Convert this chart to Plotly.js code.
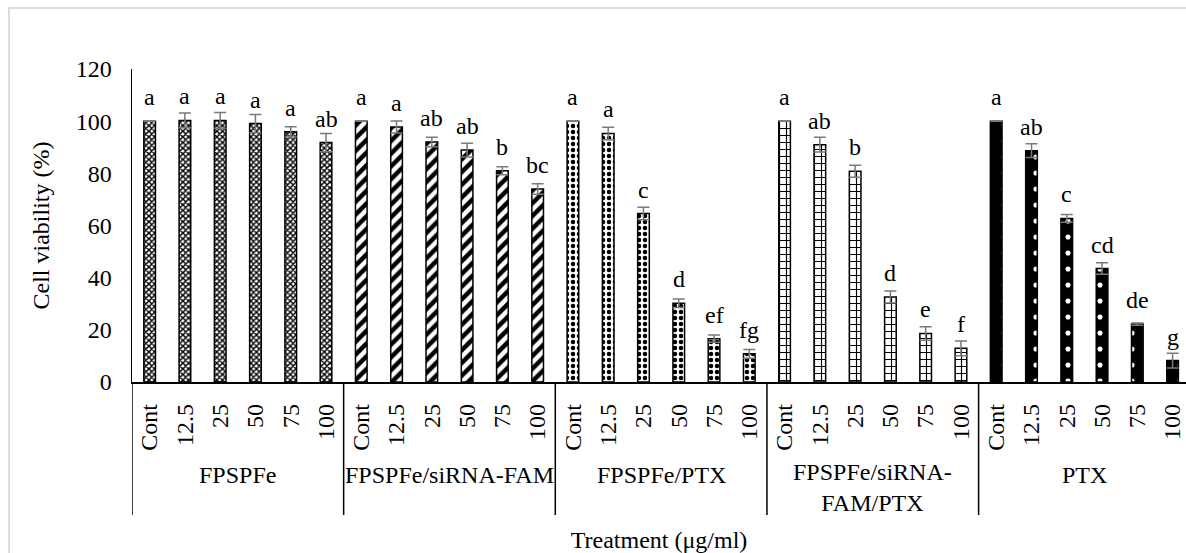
<!DOCTYPE html>
<html>
<head>
<meta charset="utf-8">
<script src="https://cdn.plot.ly/plotly-3.0.1.min.js"></script>
<style>
  html, body { margin: 0; padding: 0; background: #fff; overflow: hidden; }
  #wrap { position: relative; width: 1186px; height: 553px; }
  #chart { position: absolute; left: 0; top: 0; width: 1186px; height: 553px; }
  #frame { position: absolute; left: 8px; top: 7px; right: -4px; bottom: -4px;
           border-left: 2px solid #dcdcdc; border-top: 2px solid #dcdcdc; pointer-events: none; }
</style>
</head>
<body>
<div id="wrap">
  <div id="frame"></div>
  <div id="chart"></div>
</div>
<script>
// Treatment groups and concentrations (µg/ml)
const groups = ["FPSPFe", "FPSPFe/siRNA-FAM", "FPSPFe/PTX", "FPSPFe/siRNA-FAM/PTX", "PTX"];
const groupLabels = ["FPSPFe", "FPSPFe/siRNA-FAM", "FPSPFe/PTX", "FPSPFe/siRNA-<br>FAM/PTX", "PTX"];
const doses = ["Cont", "12.5", "25", "50", "75", "100"];

// Cell viability (%) per group, one value per dose
const viabFPSPFe       = [100, 100.3, 100.3, 99.1, 95.9, 91.8];
const viabSiRNA        = [100, 97.8, 92.0, 88.9, 81.0, 74.0];
const viabPTXNano      = [100, 95.3, 64.6, 30.2, 16.6, 10.8];
const viabSiRNAPTX     = [100, 91.0, 80.8, 32.6, 18.6, 12.9];
const viabPTX          = [100, 88.7, 62.7, 43.5, 22.2, 8.2];

// Standard deviations
const sdFPSPFe   = [0, 2.8, 3.0, 3.5, 2.0, 3.5];
const sdSiRNA    = [0, 2.3, 1.8, 2.6, 1.5, 2.0];
const sdPTXNano  = [0, 2.4, 2.4, 1.6, 1.4, 1.7];
const sdSiRNAPTX = [0, 2.8, 2.3, 2.3, 2.6, 2.8];
const sdPTX      = [0, 2.6, 1.5, 2.2, 0.4, 2.8];

// Significance letters
const sigFPSPFe   = ["a", "a", "a", "a", "a", "ab"];
const sigSiRNA    = ["a", "a", "ab", "ab", "b", "bc"];
const sigPTXNano  = ["a", "a", "c", "d", "ef", "fg"];
const sigSiRNAPTX = ["a", "ab", "b", "d", "e", "f"];
const sigPTX      = ["a", "ab", "c", "cd", "de", "g"];

const values = [viabFPSPFe, viabSiRNA, viabPTXNano, viabSiRNAPTX, viabPTX];
const sds = [sdFPSPFe, sdSiRNA, sdPTXNano, sdSiRNAPTX, sdPTX];
const sigs = [sigFPSPFe, sigSiRNA, sigPTXNano, sigSiRNAPTX, sigPTX];

// Fill patterns, one per group
const patterns = [
  {shape: "x", size: 4, solidity: 0.6, fgcolor: "#000", bgcolor: "#fff"},
  {shape: "/", size: 9, solidity: 0.5, fgcolor: "#000", bgcolor: "#fff"},
  {shape: ".", size: 6, solidity: 0.45, fgcolor: "#000", bgcolor: "#fff"},
  {shape: "+", size: 7, solidity: 0.3, fgcolor: "#000", bgcolor: "#fff"},
  {shape: ".", size: 16, solidity: 0.08, fgcolor: "#fff", bgcolor: "#000"}
];

const FONT = '"Liberation Serif", "Times New Roman", serif';
const FS = 24;
const catKey = (g, d) => g + " | " + d;
const allCats = groups.flatMap(g => doses.map(d => catKey(g, d)));
const tickText = groups.flatMap(() => doses);

const traces = groups.map((g, gi) => ({
  type: "bar",
  x: doses.map(d => catKey(g, d)),
  y: values[gi],
  width: 0.33,
  marker: {
    color: patterns[gi].bgcolor,
    line: {color: "#000", width: 1.5},
    pattern: patterns[gi]
  },
  error_y: {type: "data", array: sds[gi], visible: true, color: "#7a7a7a", thickness: 1.5, width: 6},
  showlegend: false,
  hoverinfo: "x+y"
}));

const M = {l: 132, r: 0, t: 69, b: 171};
const plotH = 553 - M.t - M.b;
const px2paper = p => -p / plotH;

const annotations = [];
groups.forEach((g, gi) => {
  doses.forEach((d, di) => {
    annotations.push({
      x: catKey(g, d), y: values[gi][di], xref: "x", yref: "y",
      text: sigs[gi][di], showarrow: false, yanchor: "middle", yshift: 24,
      font: {family: FONT, size: FS, color: "#000"}
    });
  });
  const mid = gi * doses.length + (doses.length - 1) / 2;
  const twoLine = groupLabels[gi].includes("<br>");
  annotations.push({
    x: mid, y: px2paper(twoLine ? 105 : 93), xref: "x", yref: "paper",
    text: groupLabels[gi], showarrow: false, yanchor: "middle",
    font: {family: FONT, size: FS, color: "#000"}
  });
});

// Group separators below the axis
const shapes = [];
for (let gi = 0; gi <= groups.length; gi++) {
  const xb = gi * doses.length - 0.5;
  shapes.push({
    type: "line", xref: "x", yref: "paper",
    x0: xb, x1: xb, y0: 0, y1: px2paper(133),
    line: {color: "#000", width: 1.5}
  });
}

const layout = {
  width: 1186, height: 553,
  margin: M,
  paper_bgcolor: "rgba(0,0,0,0)",
  plot_bgcolor: "rgba(0,0,0,0)",
  barmode: "overlay",
  font: {family: FONT, size: FS, color: "#000"},
  xaxis: {
    type: "category",
    categoryorder: "array", categoryarray: allCats,
    tickmode: "array", tickvals: allCats, ticktext: tickText,
    tickangle: -90,
    range: [-0.5, 29.38],
    showline: true, linecolor: "#000", linewidth: 1.5,
    ticks: "", ticklabelstandoff: 11,
    showgrid: false, zeroline: false,
    tickfont: {family: FONT, size: FS, color: "#000"},
    title: {text: "Treatment (μg/ml)", font: {family: FONT, size: FS, color: "#000"}, standoff: 81},
    automargin: false
  },
  yaxis: {
    range: [0, 120], dtick: 20, tick0: 0,
    showline: true, linecolor: "#000", linewidth: 1.5,
    ticks: "", ticklabelstandoff: 14,
    showgrid: false, zeroline: false,
    tickfont: {family: FONT, size: FS, color: "#000"},
    title: {text: "Cell viability (%)", font: {family: FONT, size: FS, color: "#000"}, standoff: 19},
    automargin: false
  },
  annotations: annotations,
  shapes: shapes
};

Plotly.newPlot("chart", traces, layout, {displayModeBar: false, staticPlot: true});
</script>
</body>
</html>
